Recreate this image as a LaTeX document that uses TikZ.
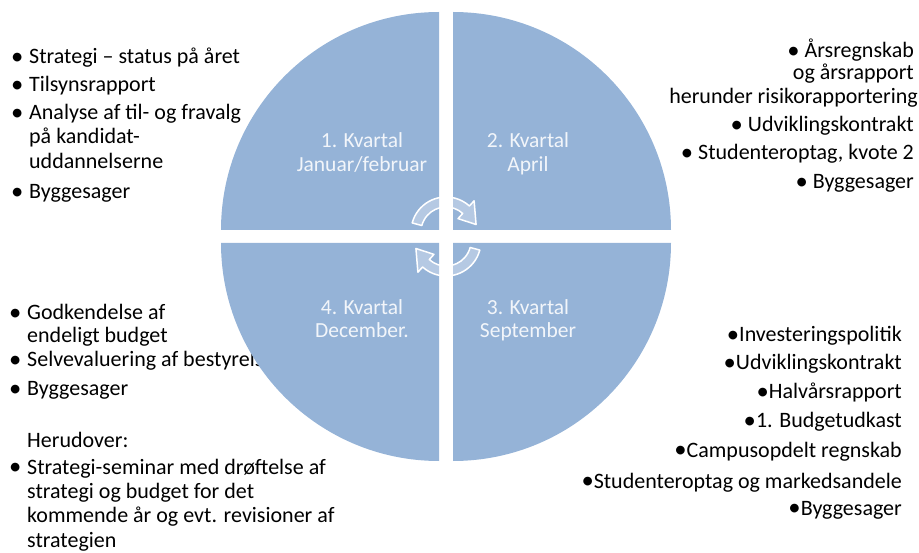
\documentclass[tikz,border=0pt]{standalone}
\usepackage{fontspec}
\usepackage{graphicx}
\setmainfont{Carlito}
\usetikzlibrary{calc}

\definecolor{kvartal}{HTML}{95B3D7}
\newcommand{\bdot}{\raisebox{-.05ex}{\scalebox{1.12}{•}}}
\newcommand{\blt}{\makebox[19pt][l]{\hspace{1pt}\bdot}}

\tikzset{
  quarter/.style={fill=kvartal},
  txt/.style={inner sep=0pt, font=\fontsize{22}{26}\selectfont},
  itm/.style={txt, anchor=base west},
  itmr/.style={txt, anchor=base east},
  lbl/.style={inner sep=0pt, font=\fontsize{21.5}{25}\selectfont, anchor=base, text=white, text opacity=.88},
  ring/.style={draw=white, line width=1.5pt, fill=white, fill opacity=.3, line join=round},
}

\begin{document}
\begin{tikzpicture}[x=1pt,y=-1pt]
    \useasboundingbox (0,0) rectangle (919,553);

    % 1. kvartal, list at top left
    \node[itm] (v1) at (10,64) {\blt Strategi – status på året};
    \node[itm] (v2) at (10,92) {\blt Tilsynsrapport};
    \node[itm] (v3) at (10,120) {\blt Analyse af til- og fravalg};
    \node[itm] (v3b) at (29,144) {på kandidat-};
    \node[itm] (v3c) at (29,169) {uddannelserne};
    \node[itm] (v4) at (10,199) {\blt Byggesager};

    % 2. kvartal, list at top right
    \node[itmr] (h1) at (914,58) {\bdot\ Årsregnskab};
    \node[itmr] (h1b) at (914,80) {og årsrapport};
    \node[itmr] (h1c) at (918,104) {herunder risikorapportering};
    \node[itmr] (h2) at (914,132) {\bdot\ Udviklingskontrakt};
    \node[itmr] (h3) at (914,160) {\bdot\ Studenteroptag, kvote 2};
    \node[itmr] (h4) at (914,189) {\bdot\ Byggesager};

    % 4. kvartal, list at bottom left
    \node[itm] (d1) at (8,320) {\blt Godkendelse af};
    \node[itm] (d1b) at (27,343) {endeligt budget};
    \node[itm] (d2) at (8,367) {\blt Selvevaluering af bestyrelsen};
    \node[itm] (d3) at (8,396) {\blt Byggesager};
    \node[itm] (d4) at (27,447) {Herudover:};
    \node[itm] (d5) at (8,474) {\blt Strategi-seminar med drøftelse af};
    \node[itm] (d5b) at (27,498) {strategi og budget for det};
    \node[itm] (d5c) at (27,522) {kommende år og evt. revisioner af};
    \node[itm] (d5d) at (27,547) {strategien};

    % 3. kvartal, list at bottom right
    \node[itmr] (s1) at (902,342) {\bdot Investeringspolitik};
    \node[itmr] (s2) at (902,370) {\bdot Udviklingskontrakt};
    \node[itmr] (s3) at (902,399) {\bdot Halvårsrapport};
    \node[itmr] (s4) at (902,428) {\bdot 1. Budgetudkast};
    \node[itmr] (s5) at (902,457) {\bdot Campusopdelt regnskab};
    \node[itmr] (s6) at (902,488) {\bdot Studenteroptag og markedsandele};
    \node[itmr] (s7) at (902,515) {\bdot Byggesager};

    % the four quarters
    \coordinate (m) at (446,236.5);
    \fill[quarter] ($(m)+(-7,-6.5)$) -- ++(-218,0)
        arc[start angle=180, end angle=270, radius=218] -- cycle;
    \fill[quarter] ($(m)+(7,-6.5)$) -- ++(0,-218)
        arc[start angle=270, end angle=360, radius=218] -- cycle;
    \fill[quarter] ($(m)+(7,6.5)$) -- ++(218,0)
        arc[start angle=0, end angle=90, radius=218] -- cycle;
    \fill[quarter] ($(m)+(-7,6.5)$) -- ++(0,218)
        arc[start angle=90, end angle=180, radius=218] -- cycle;

    \node[lbl] (k1) at (362,148) {1. Kvartal};
    \node[lbl] (k1b) at (362,172) {Januar/februar};
    \node[lbl] (k2) at (528,148) {2. Kvartal};
    \node[lbl] (k2b) at (528,172) {April};
    \node[lbl] (k3) at (528,315) {3. Kvartal};
    \node[lbl] (k3b) at (528,338) {September};
    \node[lbl] (k4) at (362,315) {4. Kvartal};
    \node[lbl] (k4b) at (362,338) {December.};

    % circular arrows
    \coordinate (c1) at (446,232);
    \coordinate (c2) at (446,241);
    \filldraw[ring] ($(c1)+(-165:35)$) arc[start angle=-165, end angle=-48, radius=35]
        -- ($(c1)+(-48:42)$) -- ($(c1)+(-14:31)$) -- ($(c1)+(-48:18)$)
        -- ($(c1)+(-48:25)$) arc[start angle=-48, end angle=-165, radius=25] -- cycle;
    \filldraw[ring] ($(c2)+(15:35)$) arc[start angle=15, end angle=132, radius=35]
        -- ($(c2)+(132:42)$) -- ($(c2)+(166:31)$) -- ($(c2)+(132:18)$)
        -- ($(c2)+(132:25)$) arc[start angle=132, end angle=15, radius=25] -- cycle;

\end{tikzpicture}
\end{document}
